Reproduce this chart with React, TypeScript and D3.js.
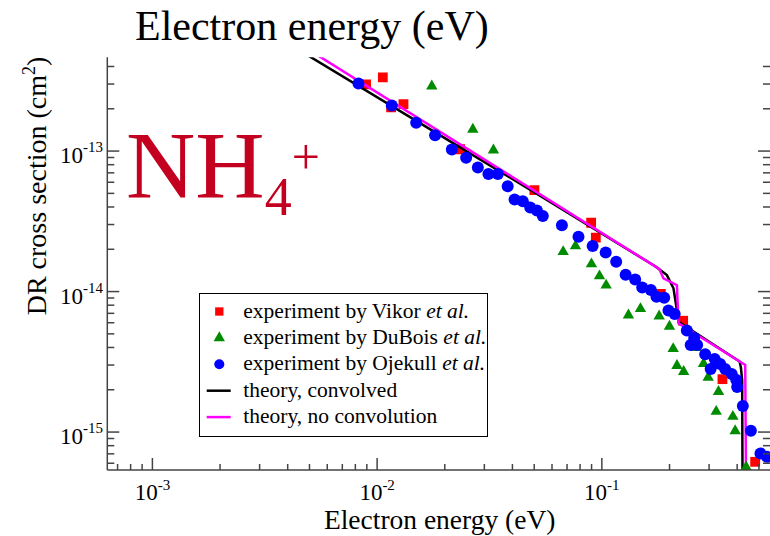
import React from "react";
import * as d3 from "d3";

// ---- data ----
const vikorE = [0.00893, 0.0106, 0.01154, 0.0131, 0.0234, 0.0501, 0.0896, 0.094, 0.183, 0.23, 0.344, 0.481];
const vikorS = [2.98e-13, 3.35e-13, 2.05e-13, 2.16e-13, 1.03e-13, 5.28e-14, 3.09e-14, 2.42e-14, 9.63e-15, 6.2e-15, 2.38e-15, 6.14e-16];

const duboisE = [0.01751, 0.02666, 0.03293, 0.06727, 0.0763, 0.0899, 0.0976, 0.1045, 0.1313, 0.1485, 0.1799, 0.1999, 0.2077, 0.2159, 0.2312, 0.2615, 0.2834, 0.2972, 0.3304, 0.3227, 0.3828, 0.3919, 0.4386];
const duboisS = [2.9e-13, 1.427e-13, 1.016e-13, 1.92e-14, 2.11e-14, 1.57e-14, 1.29e-14, 1.11e-14, 6.8e-15, 7.55e-15, 6.69e-15, 5.65e-15, 3.92e-15, 2.97e-15, 2.69e-15, 3.99e-15, 3.07e-15, 2.45e-15, 1.94e-15, 1.4e-15, 1.29e-15, 1.02e-15, 5.63e-16];

const ojekullE = [0.00826, 0.01162, 0.01492, 0.01811, 0.0215, 0.02489, 0.02807, 0.03128, 0.03445, 0.0381, 0.0409, 0.0445, 0.048, 0.0514, 0.0546, 0.0664, 0.0787, 0.091, 0.104, 0.1158, 0.1276, 0.1407, 0.1512, 0.1652, 0.175, 0.1894, 0.1979, 0.2109, 0.2389, 0.2575, 0.2484, 0.2655, 0.2883, 0.3177, 0.3049, 0.3361, 0.3537, 0.3782, 0.396, 0.4, 0.424, 0.4603, 0.5079, 0.5423];
const ojekullS = [3.03e-13, 2.11e-13, 1.59e-13, 1.294e-13, 1.028e-13, 8.96e-14, 7.65e-14, 6.86e-14, 6.86e-14, 5.61e-14, 4.53e-14, 4.39e-14, 3.96e-14, 3.77e-14, 3.45e-14, 2.97e-14, 2.46e-14, 2.11e-14, 1.9e-14, 1.63e-14, 1.318e-14, 1.22e-14, 1.07e-14, 1.025e-14, 9.18e-15, 9.02e-15, 7.32e-15, 6.92e-15, 5.28e-15, 4.67e-15, 4.16e-15, 4.16e-15, 3.58e-15, 3.31e-15, 2.81e-15, 3.05e-15, 2.81e-15, 2.59e-15, 2.36e-15, 2.09e-15, 1.53e-15, 1.02e-15, 7.05e-16, 6.67e-16];

const convE = [0.004, 0.05, 0.172, 0.18, 0.1947, 0.2083, 0.2141, 0.2193, 0.41, 0.4155, 0.421, 0.4242];
const convS = [5.86e-13, 5.1e-14, 1.52e-14, 1.44e-14, 1.31e-14, 1.055e-14, 8.0e-15, 6.1e-15, 3.18e-15, 2.9e-15, 2.34e-15, 1e-16];

const noconvE = [0.004, 0.18, 0.188, 0.2157, 0.2193, 0.4344, 0.441];
const noconvS = [6.53e-13, 1.45e-14, 1.24e-14, 1.11e-14, 5.94e-15, 3.0e-15, 1e-16];

const xMajor = [1e-3, 1e-2, 1e-1];
const xMajorExp = ["-3", "-2", "-1"];
const yMajor = [1e-15, 1e-14, 1e-13];
const yMajorExp = ["-15", "-14", "-13"];
const xDomain = [6.3e-4, 0.56];
const yDomain = [5.37e-16, 4.65e-13];

const legendLabels = [
  ["experiment by Vikor ", "et al."],
  ["experiment by DuBois ", "et al."],
  ["experiment by Ojekull ", "et al."],
  ["theory, convolved", ""],
  ["theory, no convolution", ""],
];

const FONT = "Liberation Serif, Times New Roman, DejaVu Serif, serif";
const AX = "#444";

export default function App() {
  const X0 = 107.3, X1 = 770, Y0 = 57.3, Y1 = 470;
  const x = d3.scaleLog().domain(xDomain).range([X0, X1]);
  const y = d3.scaleLog().domain(yDomain).range([Y1, Y0]);

  const minorTicks = (dom: number[]) => {
    const out: number[] = [];
    const lo = Math.floor(Math.log10(dom[0])), hi = Math.ceil(Math.log10(dom[1]));
    for (let e = lo; e <= hi; e++)
      for (let m = 2; m <= 9; m++) {
        const v = m * Math.pow(10, e);
        if (v >= dom[0] && v <= dom[1]) out.push(v);
      }
    return out;
  };
  const xMinor = minorTicks(xDomain);
  const yMinor = minorTicks(yDomain);

  const line = d3.line<[number, number]>().x((d) => x(d[0])).y((d) => y(d[1]));
  const conv = line(convE.map((e, i) => [e, convS[i]]));
  const noconv = line(noconvE.map((e, i) => [e, noconvS[i]]));

  const sq = d3.symbol().type(d3.symbolSquare).size(96)()!;
  const tri = d3.symbol().type(d3.symbolTriangle).size(56)()!;
  const circR = 6;

  const MAJ = 12, MIN = 7;
  const legX = 199.5, legY = 293.5, legW = 288, legH = 143;
  const rowY = (i: number) => 311.5 + i * 26.4;
  const T = { fontFamily: FONT } as React.CSSProperties;

  return (
    <svg
      width={770}
      height={536}
      style={{ position: "absolute", left: 0, top: 0, background: "#fff", fontFamily: FONT }}
    >
      <defs>
        <clipPath id="plot">
          <rect x={X0} y={Y0} width={X1 - X0 + 2} height={Y1 - Y0} />
        </clipPath>
      </defs>
      <rect x={0} y={0} width={770} height={536} fill="#fff" />

      {/* top label */}
      <text x={135} y={40} fontSize={42} fill="#000" style={T}>Electron energy (eV)</text>

      {/* data */}
      <g clipPath="url(#plot)">
        {vikorE.map((e, i) => (
          <path key={"v" + i} d={sq} transform={`translate(${x(e)},${y(vikorS[i])})`} fill="#ff0000" />
        ))}
        <path d={conv!} fill="none" stroke="#000" strokeWidth={2.5} />
        <path d={noconv!} fill="none" stroke="#ff00ff" strokeWidth={2.5} />
        {duboisE.map((e, i) => (
          <path key={"d" + i} d={tri} transform={`translate(${x(e)},${y(duboisS[i])})`} fill="#008b00" />
        ))}
        {ojekullE.map((e, i) => (
          <circle key={"o" + i} cx={x(e)} cy={y(ojekullS[i])} r={circR} fill="#0000ff" />
        ))}
      </g>

      {/* axes */}
      <line x1={X0} x2={X0} y1={Y0} y2={Y1} stroke={AX} strokeWidth={1.5} />
      <line x1={X0} x2={X1} y1={Y1} y2={Y1} stroke={AX} strokeWidth={1.5} />
      {xMajor.map((v) => (
        <line key={"xm" + v} x1={x(v)} x2={x(v)} y1={Y1} y2={Y1 - MAJ} stroke={AX} strokeWidth={1.5} />
      ))}
      {xMinor.map((v) => (
        <line key={"xn" + v} x1={x(v)} x2={x(v)} y1={Y1} y2={Y1 - MIN + 1} stroke={AX} strokeWidth={1.5} />
      ))}
      {yMajor.map((v) => (
        <g key={"ym" + v}>
          <line x1={X0} x2={X0 + MAJ} y1={y(v)} y2={y(v)} stroke={AX} strokeWidth={1.5} />
          <line x1={X1} x2={X1 - MAJ} y1={y(v)} y2={y(v)} stroke={AX} strokeWidth={1.5} />
        </g>
      ))}
      {yMinor.map((v) => (
        <g key={"yn" + v}>
          <line x1={X0} x2={X0 + MIN} y1={y(v)} y2={y(v)} stroke={AX} strokeWidth={1.5} />
          <line x1={X1} x2={X1 - MIN} y1={y(v)} y2={y(v)} stroke={AX} strokeWidth={1.5} />
        </g>
      ))}

      {/* tick labels */}
      {xMajor.map((v, i) => (
        <text key={"xl" + v} x={x(v)} y={500} fontSize={23} textAnchor="middle" fill="#000" style={T}>
          10<tspan dy={-10} fontSize={15} style={T}>{xMajorExp[i]}</tspan>
        </text>
      ))}
      {yMajor.map((v, i) => (
        <text key={"yl" + v} x={103} y={y(v) + 12} fontSize={23} textAnchor="end" fill="#000" style={T}>
          10<tspan dy={-11} fontSize={15} style={T}>{yMajorExp[i]}</tspan>
        </text>
      ))}

      {/* axis titles */}
      <text x={439.7} y={529} fontSize={27.5} textAnchor="middle" fill="#000" style={T}>Electron energy (eV)</text>
      <text transform="translate(46,186) rotate(-90)" fontSize={28} textAnchor="middle" fill="#000" style={T}>
        DR cross section (cm<tspan dy={-11} fontSize={18} style={T}>2</tspan><tspan dy={11} style={T}>)</tspan>
      </text>

      {/* NH4+ */}
      <text x={126} y={198} fontSize={96} fill="#c40020" style={T}>
        NH<tspan fontSize={54} dy={17} style={T}>4</tspan><tspan fontSize={50} dy={-41} style={T}>+</tspan>
      </text>

      {/* legend */}
      <rect x={legX} y={legY} width={legW} height={legH} fill="#fff" stroke="#000" strokeWidth={1} />
      <path d={sq} transform={`translate(219.3,${rowY(0)}) scale(0.85)`} fill="#ff0000" />
      <path d={tri} transform={`translate(219.3,${rowY(1)})`} fill="#008b00" />
      <circle cx={219.3} cy={rowY(2)} r={5} fill="#0000ff" />
      <line x1={206.7} x2={230.7} y1={rowY(3)} y2={rowY(3)} stroke="#000" strokeWidth={2.5} />
      <line x1={206.7} x2={230.7} y1={rowY(4)} y2={rowY(4)} stroke="#ff00ff" strokeWidth={2.5} />
      {legendLabels.map((l, i) => (
        <text key={"lg" + i} x={243.3} y={rowY(i) + 6} fontSize={21.5} fill="#000" style={T}>
          {l[0]}
          {l[1] && <tspan fontStyle="italic" style={T}>{l[1]}</tspan>}
        </text>
      ))}
    </svg>
  );
}
